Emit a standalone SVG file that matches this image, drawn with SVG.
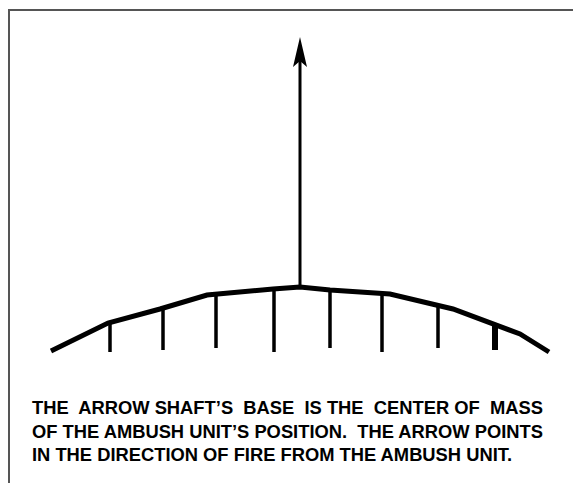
<svg xmlns="http://www.w3.org/2000/svg" width="573" height="483" viewBox="0 0 573 483">
<style>
.frame{fill:none;stroke:#555;stroke-width:2}
.curve{fill:none;stroke:#000;stroke-width:5;stroke-linejoin:miter}
.tick{stroke:#000;stroke-width:3.5}
.txt{font-family:"Liberation Sans",Arial,sans-serif;font-weight:bold;font-size:19px;fill:#000}
</style>
<rect width="573" height="483" fill="#fff"/>
<path class="frame" d="M9,483 V10 H573"/>
<g id="position">
<polyline class="curve" points="51,351 108,323 160,309 207,295 273,289 300,287 330,290 390,294 453,309 520,334 549,352"/>
<line class="tick" x1="110" y1="322" x2="110" y2="352"/>
<line class="tick" x1="163" y1="308" x2="163" y2="350"/>
<line class="tick" x1="216" y1="294" x2="216" y2="348"/>
<line class="tick" x1="274" y1="289" x2="274" y2="352"/>
<line class="tick" x1="330" y1="290" x2="330" y2="348"/>
<line class="tick" x1="382" y1="293" x2="382" y2="352"/>
<line class="tick" x1="438" y1="305" x2="438" y2="348"/>
<line class="tick" x1="495" y1="325" x2="495" y2="350" style="stroke-width:6"/>
</g>
<g id="connectors">
<line x1="300" y1="288" x2="300" y2="60" stroke="#000" stroke-width="3"/>
<polygon points="300,37 307,67 300,61 293,67" fill="#000"/>
</g>
<g id="caption">
<text class="txt" x="32" y="413.5" textLength="511" lengthAdjust="spacingAndGlyphs" xml:space="preserve">THE  ARROW SHAFT’S  BASE  IS THE  CENTER OF  MASS</text>
<text class="txt" x="32" y="437.5" textLength="511" lengthAdjust="spacingAndGlyphs" xml:space="preserve">OF THE AMBUSH UNIT’S POSITION.  THE ARROW POINTS</text>
<text class="txt" x="32" y="461" textLength="480" lengthAdjust="spacingAndGlyphs">IN THE DIRECTION OF FIRE FROM THE AMBUSH UNIT.</text>
</g>
</svg>
